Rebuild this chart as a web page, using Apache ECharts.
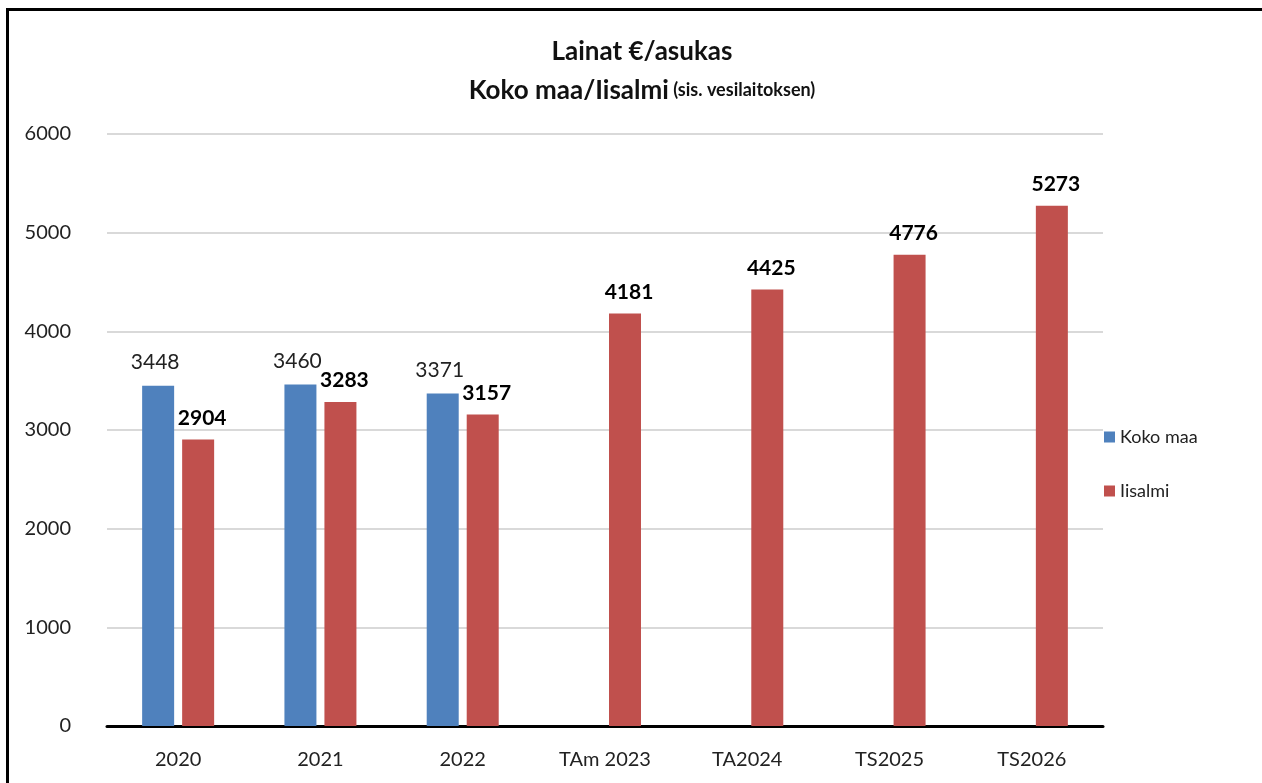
<!DOCTYPE html>
<html>
<head>
<meta charset="utf-8">
<script src="https://cdn.jsdelivr.net/npm/echarts@6/dist/echarts.min.js"></script>
<style>
html, body { margin: 0; padding: 0; background: #fff; }
#frame { position: absolute; left: 6px; top: 8px; width: 1300px; height: 800px;
  border-top: 3px solid #000; border-left: 3px solid #000; }
#main { position: absolute; left: 0; top: 0; width: 1262px; height: 783px; }
</style>
</head>
<body>
<div id="frame"></div>
<div id="main"></div>
<script>
var years = ['2020', '2021', '2022', 'TAm 2023', 'TA2024', 'TS2025', 'TS2026'];
var kokoMaa = [3448, 3460, 3371, null, null, null, null];
var iisalmi = [2904, 3283, 3157, 4181, 4425, 4776, 5273];

var font = 'Lato';

option = {
    animation: false,
    backgroundColor: 'transparent',
    textStyle: { fontFamily: font },
    title: {
        text: '{a|Lainat €/asukas}\n{a|Koko maa/Iisalmi} {b|(sis. vesilaitoksen)}',
        left: 637,
        textAlign: 'center',
        top: 27,
        textStyle: {
            rich: {
                a: { fontSize: 26, fontWeight: 'bold', color: '#111', fontFamily: font, lineHeight: 39 },
                b: { fontSize: 18, fontWeight: 'bold', color: '#111', fontFamily: font, lineHeight: 39 }
            }
        }
    },
    legend: {
        orient: 'vertical',
        left: 1099,
        top: 423,
        itemWidth: 11,
        itemHeight: 11,
        itemGap: 36,
        icon: 'rect',
        textStyle: { fontSize: 18, color: '#222', fontFamily: font }
    },
    grid: {
        left: 107,
        right: 159,
        top: 134,
        bottom: 57
    },
    xAxis: {
        type: 'category',
        data: years,
        axisTick: { show: false },
        axisLine: { lineStyle: { color: '#000', width: 3 } },
        axisLabel: { fontSize: 20, color: '#222', margin: 24, fontFamily: font }
    },
    yAxis: {
        type: 'value',
        min: 0,
        max: 6000,
        interval: 1000,
        axisLine: { show: false },
        axisTick: { show: false },
        axisLabel: { fontSize: 20, color: '#222', margin: 36, fontFamily: font,
            formatter: function (v) { return String(v); } },
        splitLine: { lineStyle: { color: '#d9d9d9', width: 2 } }
    },
    series: [{
        name: 'Koko maa',
        type: 'bar',
        data: kokoMaa,
        barWidth: 32,
        barGap: '25%',
        itemStyle: { color: '#4F81BD' },
        label: {
            show: true,
            position: 'top',
            offset: [-3, -8],
            fontSize: 21,
            color: '#222',
            fontFamily: font
        }
    }, {
        name: 'Iisalmi',
        type: 'bar',
        data: iisalmi,
        barWidth: 32,
        itemStyle: { color: '#C0504D' },
        label: {
            show: true,
            position: 'top',
            offset: [4, -6],
            fontSize: 21,
            fontWeight: 'bold',
            color: '#000',
            fontFamily: font
        }
    }]
};
var myChart = echarts.init(document.getElementById('main'));
myChart.setOption(option);
</script>
</body>
</html>
